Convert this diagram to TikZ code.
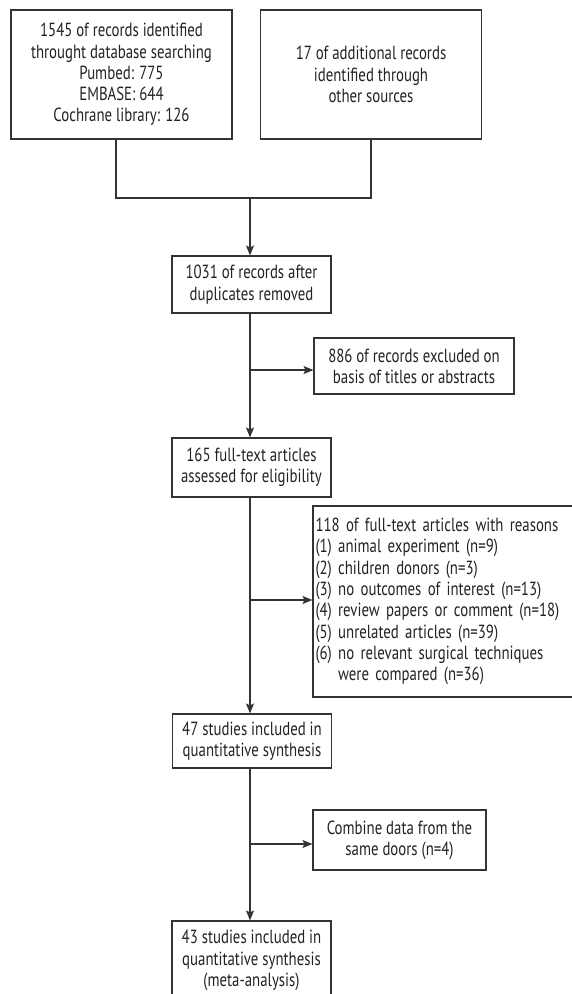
\documentclass[tikz,border=0pt]{standalone}
\usepackage{fontspec}
\setmainfont{PT Sans}[FakeStretch=0.78]
\usetikzlibrary{arrows.meta,positioning}
\definecolor{ln}{HTML}{333333}
\definecolor{tx}{HTML}{222222}
\tikzset{
  box/.style={draw=ln, line width=1.1pt, inner sep=0pt, text=tx, align=center,
    font=\fontsize{19}{21.3}\selectfont},
  conn/.style={draw=ln, line width=1.1pt},
  arr/.style={conn, -{Stealth[length=10pt,width=8pt,inset=2pt]}}
}
\begin{document}
\begin{tikzpicture}[x=1pt,y=-1pt]
\useasboundingbox (0,0) rectangle (572,994);
\node[box, minimum width=221pt, minimum height=129pt] (b1) at (121.5,74.5)
  {1545 of records identified\\throught database searching\\Pumbed: 775\\EMBASE: 644\\Cochrane library: 126};
\node[box, minimum width=221pt, minimum height=129pt] (b2) at (371,74.5)
  {17 of additional records\\identified through\\other sources};
\node[box, minimum width=159pt, minimum height=57pt] (b3) at (251.5,284.5)
  {1031 of records after\\duplicates removed};
\node[box, minimum width=200pt, minimum height=56pt] (b4) at (414,366)
  {886 of records excluded on\\basis of titles or abstracts};
\node[box, minimum width=260pt, minimum height=191pt, align=left, text width=255pt] (b6) at (443,601.5)
  {118 of full-text articles with reasons\\(1) animal experiment (n=9)\\(2) children donors (n=3)\\(3) no outcomes of interest (n=13)\\(4) review papers or comment (n=18)\\(5) unrelated articles (n=39)\\(6) no relevant surgical techniques\\\phantom{(6) }were compared (n=36)};
\node[box, minimum width=159pt, minimum height=59pt] (b5) at (251.5,467.5)
  {165 full-text articles\\assessed for eligibility};
\node[box, minimum width=159pt, minimum height=54pt] (b7) at (252,741)
  {47 studies included in\\quantitative synthesis};
\node[box, minimum width=173pt, minimum height=60pt] (b8) at (399.5,840)
  {Combine data from the\\same doors (n=4)};
\node[box, minimum width=159pt, minimum height=79pt] (b9) at (251.5,960.5)
  {43 studies included in\\quantitative synthesis\\(meta-analysis)};
\coordinate (m) at (250,198);
\draw[conn] ([xshift=-5.5pt]b1.south) |- (m);
\draw[conn] (b2.south) |- (m);
\draw[arr] (m) -- (m |- b3.north);
\draw[arr] (m |- b3.south) -- (m |- b5.north);
\draw[arr] (m |- 0,370) -- (b4.west |- 0,370);
\draw[arr] (m |- b5.south) -- (m |- b7.north);
\draw[arr] (m |- 0,600) -- (b6.west |- 0,600);
\draw[arr] (m |- b7.south) -- (m |- b9.north);
\draw[arr] (m |- 0,844) -- (b8.west |- 0,844);
\end{tikzpicture}
\end{document}
